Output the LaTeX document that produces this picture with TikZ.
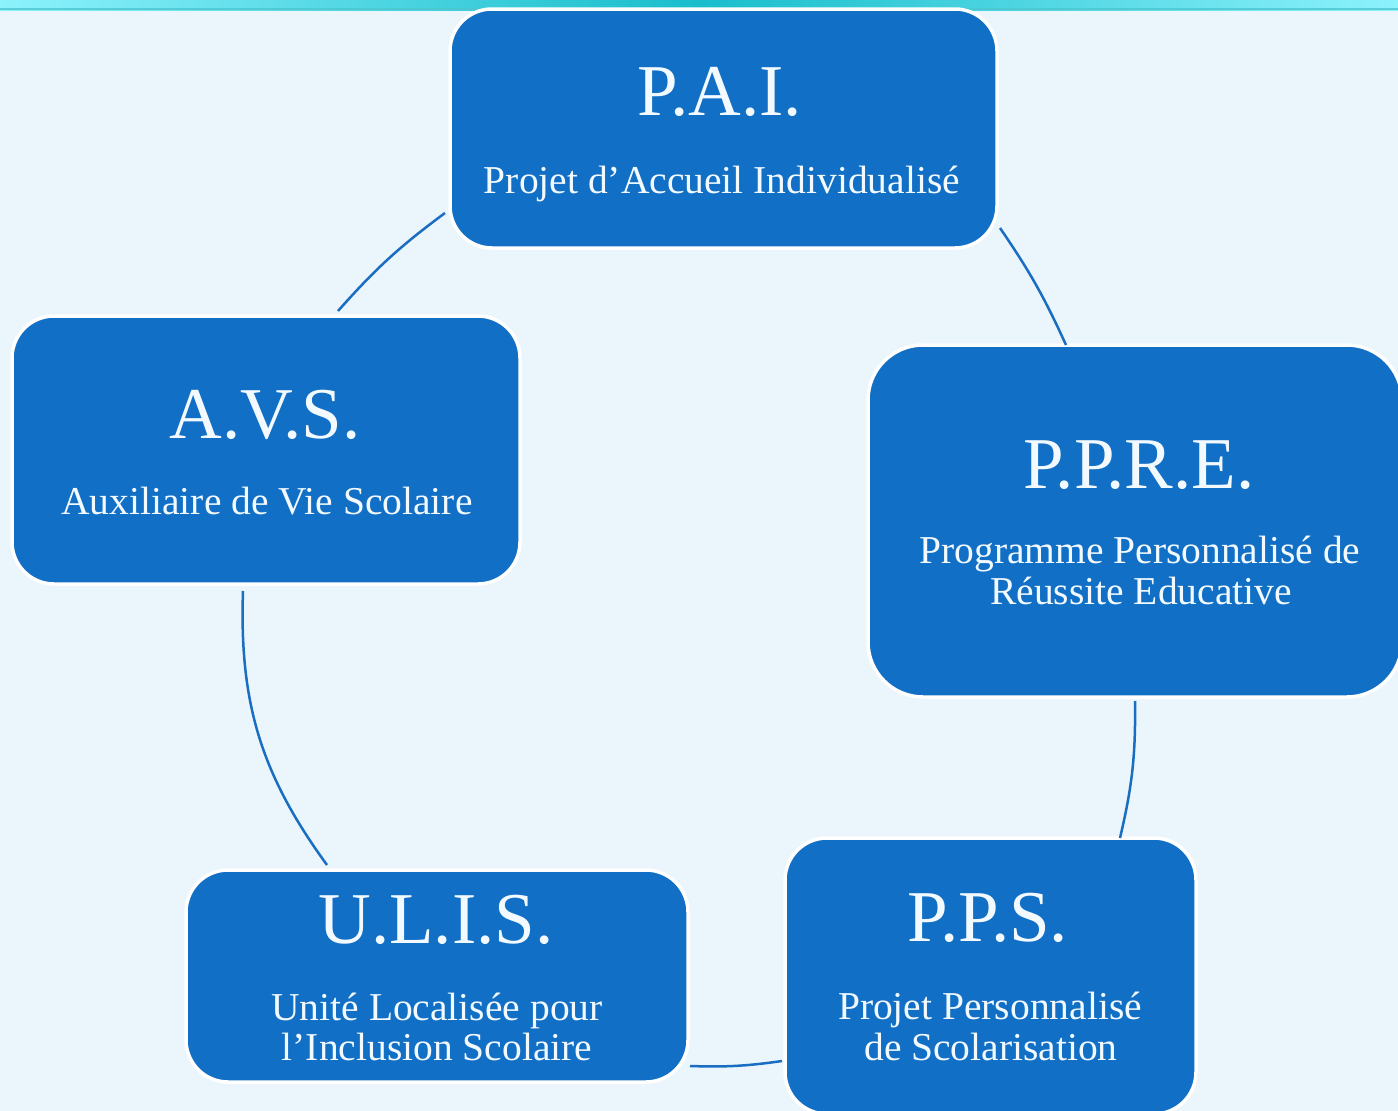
\documentclass[tikz,border=0pt]{standalone}
\usepackage{fontspec}
\setmainfont{Liberation Serif}
\definecolor{bgblue}{HTML}{EBF5FC}
\definecolor{boxblue}{HTML}{116FC5}
\definecolor{linkblue}{HTML}{1A6EC2}
\definecolor{bandA}{HTML}{8CF2FC}
\definecolor{bandB}{HTML}{19BDCC}
\definecolor{bandC}{HTML}{4CC6D0}
\definecolor{txt}{HTML}{F2FAFF}
\begin{document}
\begin{tikzpicture}[x=1pt,y=-1pt,
  card/.style={draw=white, line width=3.5pt, fill=boxblue, rounded corners=42pt, inner sep=0pt},
  bigtitle/.style={text=txt, anchor=base, inner sep=0pt, font=\fontsize{73}{80}\selectfont},
  subtitle/.style={text=txt, anchor=base, inner sep=0pt, font=\fontsize{39.5}{44}\selectfont},
  link/.style={draw=linkblue, line width=2.5pt}]
\useasboundingbox (0,0) rectangle (1398,1111);
\clip (0,0) rectangle (1398,1111);
\fill[bgblue] (0,0) rectangle (1398,1111);
% top band
\shade[left color=bandA, right color=bandA, middle color=bandB] (0,0) rectangle (1398,10);
\fill[bandC, opacity=0.8] (0,8) rectangle (1398,10);

% boxes
\node[card, minimum width=547pt, minimum height=239pt] (pai) at (723.5,128.5) {};
\node[card, minimum width=534pt, minimum height=352pt, rounded corners=55pt] (ppre) at (1135,521) {};
\node[card, minimum width=508pt, minimum height=268pt] (avs) at (266,450) {};
\node[card, minimum width=502pt, minimum height=212pt] (ulis) at (437,976) {};
\node[card, minimum width=411pt, minimum height=276pt] (pps) at (990.5,976) {};

% texts
\node[bigtitle] (paiT) at (720,115) {P.A.I.};
\node[subtitle] (paiS) at (722,193) {Projet d’Accueil Individualisé};
\node[bigtitle] (avsT) at (265,438) {A.V.S.};
\node[subtitle] (avsS) at (267,514) {Auxiliaire de Vie Scolaire};
\node[bigtitle] (ppreT) at (1139,488) {P.P.R.E.};
\node[subtitle] (ppreS1) at (1140,563) {Programme Personnalisé de};
\node[subtitle] (ppreS2) at (1141,604) {Réussite Educative};
\node[bigtitle] (ppsT) at (988,941) {P.P.S.};
\node[subtitle] (ppsS1) at (990,1019) {Projet Personnalisé};
\node[subtitle] (ppsS2) at (991,1060) {de Scolarisation};
\node[bigtitle] (ulisT) at (436,943) {U.L.I.S.};
\node[subtitle] (ulisS1) at (437,1020) {Unité Localisée pour};
\node[subtitle] (ulisS2) at (437,1060) {l’Inclusion Scolaire};

% connectors (clockwise)
\draw[link] ([shift={(276.5,99.5)}]pai.center) to[bend left=5] ([shift={(-69,-176)}]ppre.center);
\draw[link] ([shift={(0,180)}]ppre.center) to[bend left=7] ([shift={(129.5,-138)}]pps.center);
\draw[link] ([shift={(-208.5,85)}]pps.center) to[bend left=5] ([shift={(253,90)}]ulis.center);
\draw[link] ([shift={(-110,-111)}]ulis.center) to[bend left=19] ([shift={(-23,141)}]avs.center);
\draw[link] ([shift={(72,-139)}]avs.center) to[bend left=6] ([shift={(-278.5,84.5)}]pai.center);
\end{tikzpicture}
\end{document}
